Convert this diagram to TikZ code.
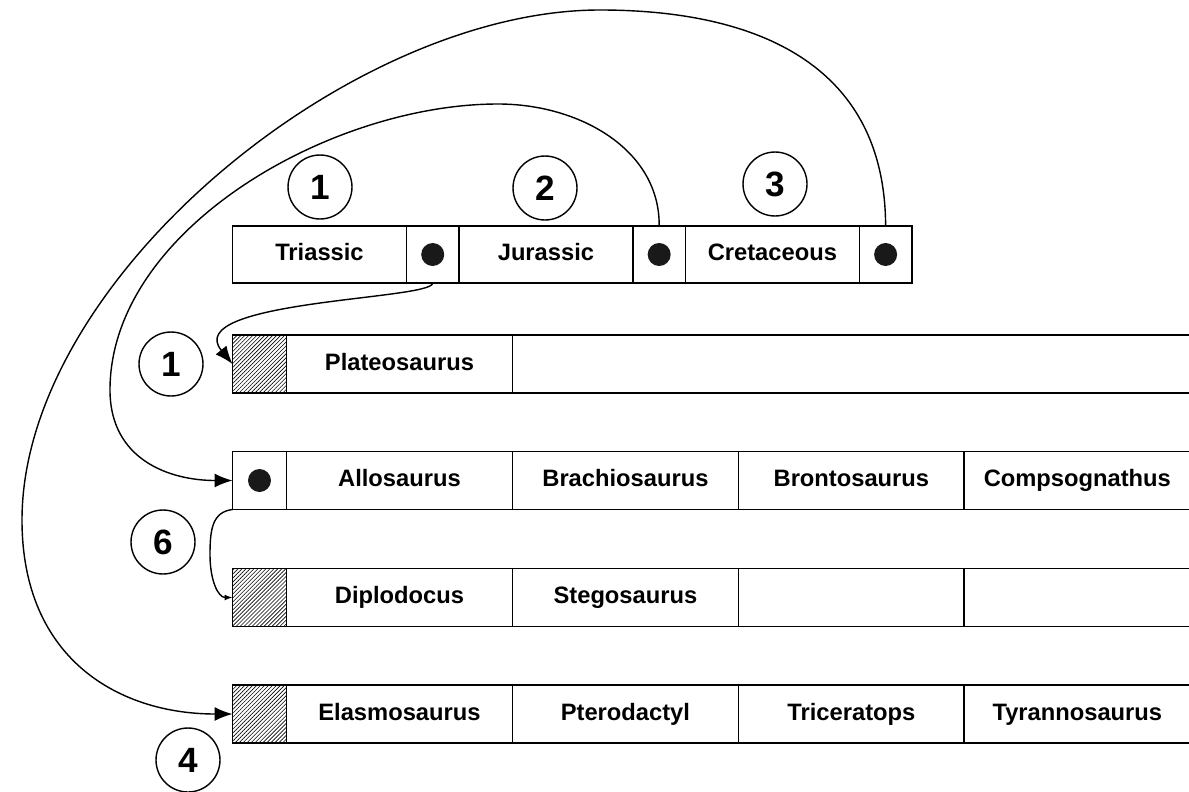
\documentclass[tikz,border=0pt]{standalone}
\usepackage{fontspec}
\setmainfont{Liberation Sans}
\usetikzlibrary{positioning, arrows.meta, patterns.meta}

\begin{document}
\begin{tikzpicture}[x=0.02cm, y=-0.02cm]
	% Define styles
	\tikzset{
		cell/.style={rectangle, draw, line width=1pt, outer sep=0pt, inner sep=0pt, minimum width=4.52cm, minimum height=1.16cm, text height=0.72em, text depth=0pt, font=\fontsize{13.5}{16}\selectfont\bfseries},
		period/.style={cell, minimum width=3.48cm, minimum height=1.14cm},
		ptr/.style={cell, minimum width=1.05cm, minimum height=1.14cm},
		hatch/.style={cell, minimum width=1.08cm, pattern={Lines[angle=45, distance=1.6pt, line width=0.35pt]}},
		dot/.style={circle, fill=black!90, minimum size=0.46cm, inner sep=0pt},
		num/.style={circle, draw, line width=0.8pt, minimum size=1.28cm, inner sep=0pt, font=\fontsize{20}{24}\selectfont\bfseries},
		line/.style={draw, line width=0.8pt, -{Latex[length=0.36cm, width=0.28cm]}},
		shortline/.style={draw, line width=0.8pt, -{Latex[length=0.16cm, width=0.12cm]}}
	}
	\useasboundingbox (0,0) rectangle (1189,791);
	% Periods
	\node[period, anchor=west] (tri) at (232.5,254.5) {Triassic};
	\node[ptr, right=0pt of tri] (tptr) {};
	\node[period, right=0pt of tptr] (jur) {Jurassic};
	\node[ptr, right=0pt of jur] (jptr) {};
	\node[period, right=0pt of jptr] (cre) {Cretaceous};
	\node[ptr, right=0pt of cre] (cptr) {};
	\node[dot] (tdot) at (tptr) {};
	\node[dot] (jdot) at (jptr) {};
	\node[dot] (cdot) at (cptr) {};
	
	\node[num] (n1) at (320,187) {1};
	\node[num] (n2) at (545,188) {2};
	\node[num] (n3) at (775,184) {3};
	
	% Row 1
	\node[hatch, anchor=west] (h1) at (232.5,364) {};
	\node[cell, right=0pt of h1] (plat) {Plateosaurus};
	\node[cell, minimum width=14cm, right=0pt of plat] (rest1) {};
	
	% Row 2
	\node[ptr, minimum width=1.08cm, minimum height=1.16cm, anchor=west] (aptr) at (232.5,480.5) {};
	\node[dot] (adot) at (aptr) {};
	\node[cell, right=0pt of aptr] (allo) {Allosaurus};
	\node[cell, right=0pt of allo] (brac) {Brachiosaurus};
	\node[cell, right=0pt of brac] (bron) {Brontosaurus};
	\node[cell, right=0pt of bron] (comp) {Compsognathus};
	
	% Row 3
	\node[hatch, anchor=west] (h3) at (232.5,597.5) {};
	\node[cell, right=0pt of h3] (dipl) {Diplodocus};
	\node[cell, right=0pt of dipl] (steg) {Stegosaurus};
	\node[cell, right=0pt of steg] (e3a) {};
	\node[cell, right=0pt of e3a] (e3b) {};
	
	% Row 4
	\node[hatch, anchor=west] (h4) at (232.5,714) {};
	\node[cell, right=0pt of h4] (elas) {Elasmosaurus};
	\node[cell, right=0pt of elas] (pter) {Pterodactyl};
	\node[cell, right=0pt of pter] (tric) {Triceratops};
	\node[cell, right=0pt of tric] (tyra) {Tyrannosaurus};
	
	\node[num] (m1) at (171,364) {1};
	\node[num] (m6) at (163,542) {6};
	\node[num] (m4) at (188,760) {4};
	
	% Arrows
	\draw[line] (tptr.south) .. controls (433,300) and (180,300) .. (h1.west);
	\draw[line] (jptr.north) .. controls (660,150) and (580,104) .. (498,104)
		.. controls (330,104) and (110,230) .. (110,390)
		.. controls (110,460) and (170,480.5) .. (aptr.west);
	\draw[line] (cptr.north) .. controls (885,60) and (750,10) .. (600,10)
		.. controls (350,10) and (22,280) .. (22,520)
		.. controls (22,660) and (120,714) .. (h4.west);
	\draw[shortline] (aptr.south west) .. controls (212,512) and (210,530) .. (210,555)
		.. controls (210,580) and (218,597.5) .. (h3.west);
\end{tikzpicture}
\end{document}
